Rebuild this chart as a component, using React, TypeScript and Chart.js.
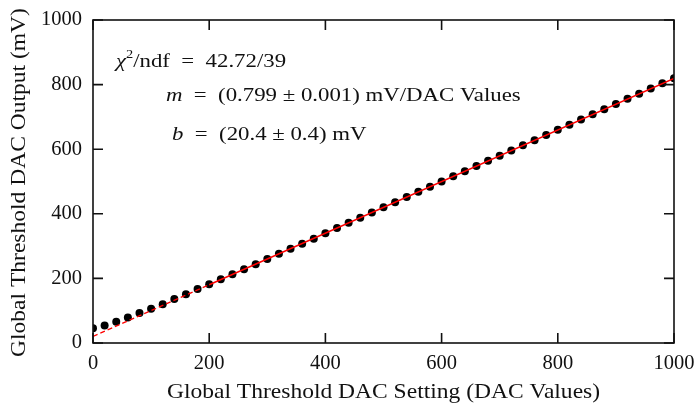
import React, { useEffect, useRef } from "react";
import { Chart, registerables } from "chart.js";

Chart.register(...registerables);

const xValues = [
  0, 20, 40, 60, 80, 100, 120, 140, 160, 180,
  200, 220, 240, 260, 280, 300, 320, 340, 360, 380,
  400, 420, 440, 460, 480, 500, 520, 540, 560, 580,
  600, 620, 640, 660, 680, 700, 720, 740, 760, 780,
  800, 820, 840, 860, 880, 900, 920, 940, 960, 980, 1000,
];
const yValues = [
  46, 54, 66, 79, 93, 106, 120, 136, 151, 167,
  182, 197, 213, 228, 244, 260, 276, 292, 307, 323,
  340, 356, 372, 388, 404, 420, 436, 452, 468, 484,
  500, 516, 532, 548, 564, 580, 596, 612, 628, 644,
  660, 676, 692, 708, 724, 740, 756, 772, 788, 804, 820,
];
const fitSlope = 0.799;
const fitIntercept = 20.4;
const fitRangeStart = 200;
const fitRangeEnd = 1000;
const xTickLabels = [0, 200, 400, 600, 800, 1000];
const yTickLabels = [0, 200, 400, 600, 800, 1000];
const xTitle = "Global Threshold DAC Setting (DAC Values)";
const yTitle = "Global Threshold DAC Output (mV)";

const FONT = "'Liberation Serif', 'DejaVu Serif', serif";
const EQ = "\u2002=\u2002";

const framePlugin = {
  id: "frameTicks",
  afterDatasetsDraw(chart: any) {
    const { ctx, chartArea, scales } = chart;
    const { left, right, top, bottom } = chartArea;
    ctx.save();
    ctx.strokeStyle = "#111";
    ctx.lineWidth = 1.6;
    ctx.strokeRect(left, top, right - left, bottom - top);
    const tl = 10;
    ctx.beginPath();
    xTickLabels.forEach((v) => {
      const px = scales.x.getPixelForValue(v);
      ctx.moveTo(px, bottom);
      ctx.lineTo(px, bottom - tl);
      ctx.moveTo(px, top);
      ctx.lineTo(px, top + tl);
    });
    yTickLabels.forEach((v) => {
      const py = scales.y.getPixelForValue(v);
      ctx.moveTo(left, py);
      ctx.lineTo(left + tl, py);
      ctx.moveTo(right, py);
      ctx.lineTo(right - tl, py);
    });
    ctx.stroke();

    ctx.fillStyle = "#111";

    // axis titles (horizontally widened serif)
    const tsx = 1.12;
    ctx.font = `21px ${FONT}`;
    ctx.textAlign = "center";
    ctx.textBaseline = "middle";
    ctx.save();
    ctx.translate((left + right) / 2, 392);
    ctx.scale(tsx, 1);
    ctx.fillText(xTitle, 0, 0);
    ctx.restore();
    ctx.save();
    ctx.translate(19, (top + bottom) / 2 + 1);
    ctx.rotate(-Math.PI / 2);
    ctx.scale(tsx, 1);
    ctx.fillText(yTitle, 0, 0);
    ctx.restore();

    // annotation text
    const asx = 1.2;
    ctx.textBaseline = "alphabetic";
    ctx.textAlign = "left";
    const size = 19;
    const reg = `${size}px ${FONT}`;
    const ita = `italic ${size}px ${FONT}`;
    const drawParts = (x: number, y: number, parts: [string, string, number?][]) => {
      ctx.save();
      ctx.translate(x, y);
      ctx.scale(asx, 1);
      let cx = 0;
      parts.forEach(([txt, f, dy]) => {
        ctx.font = f;
        ctx.fillText(txt, cx, dy || 0);
        cx += ctx.measureText(txt).width;
      });
      ctx.restore();
    };
    drawParts(left + 23, top + 47, [
      ["χ", ita],
      ["2", `12px ${FONT}`, -9],
      ["/ndf" + EQ + "42.72/39", reg],
    ]);
    drawParts(left + 73, top + 81, [
      ["m", ita],
      [EQ + "(0.799 ± 0.001) mV/DAC Values", reg],
    ]);
    drawParts(left + 79, top + 120, [
      ["b", ita],
      [EQ + "(20.4 ± 0.4) mV", reg],
    ]);
    ctx.restore();
  },
};

export default function App() {
  const ref = useRef<HTMLCanvasElement | null>(null);
  useEffect(() => {
    if (!ref.current) return;
    const points = xValues.map((x, i) => ({ x, y: yValues[i] }));
    const fitLine = (a: number, b: number) => [
      { x: a, y: fitSlope * a + fitIntercept },
      { x: b, y: fitSlope * b + fitIntercept },
    ];
    const chart = new Chart(ref.current, {
      type: "scatter",
      data: {
        datasets: [
          {
            type: "line",
            data: fitLine(fitRangeStart, fitRangeEnd),
            borderColor: "#ff0000",
            borderWidth: 1.5,
            pointRadius: 0,
            fill: false,
          } as any,
          {
            type: "line",
            data: fitLine(0, fitRangeStart),
            borderColor: "#ff0000",
            borderWidth: 1.3,
            borderDash: [5, 3],
            pointRadius: 0,
            fill: false,
          } as any,
          {
            data: points,
            backgroundColor: "#000",
            borderColor: "#000",
            pointRadius: 4,
            borderWidth: 0,
          },
        ],
      },
      options: {
        responsive: false,
        animation: false,
        layout: { padding: { top: 20, right: 24, left: 0, bottom: 0 } },
        plugins: { legend: { display: false }, tooltip: { enabled: false } },
        scales: {
          x: {
            type: "linear",
            min: 0,
            max: 1000,
            afterFit: (s: any) => {
              s.height = 66;
              s.paddingLeft = 0;
              s.paddingRight = 0;
            },
            afterBuildTicks: (s: any) => {
              s.ticks = xTickLabels.map((v) => ({ value: v }));
            },
            grid: { display: false, drawTicks: false },
            border: { display: false },
            ticks: {
              color: "#111",
              padding: 8,
              maxRotation: 0,
              font: { family: FONT, size: 20.5 },
              callback: (v: any) => String(v),
            },
            title: { display: false },
          },
          y: {
            type: "linear",
            min: 0,
            max: 1000,
            afterFit: (s: any) => {
              s.width = 93;
              s.paddingTop = 0;
              s.paddingBottom = 0;
            },
            afterBuildTicks: (s: any) => {
              s.ticks = yTickLabels.map((v) => ({ value: v }));
            },
            grid: { display: false, drawTicks: false },
            border: { display: false },
            ticks: {
              color: "#111",
              padding: 11,
              font: { family: FONT, size: 20.5 },
              callback: (v: any) => String(v),
            },
            title: { display: false },
          },
        },
      },
      plugins: [framePlugin],
    });
    return () => chart.destroy();
  }, []);
  return (
    <canvas
      ref={ref}
      width={698}
      height={409}
      style={{ display: "block", position: "absolute", left: 0, top: 0 }}
    />
  );
}
